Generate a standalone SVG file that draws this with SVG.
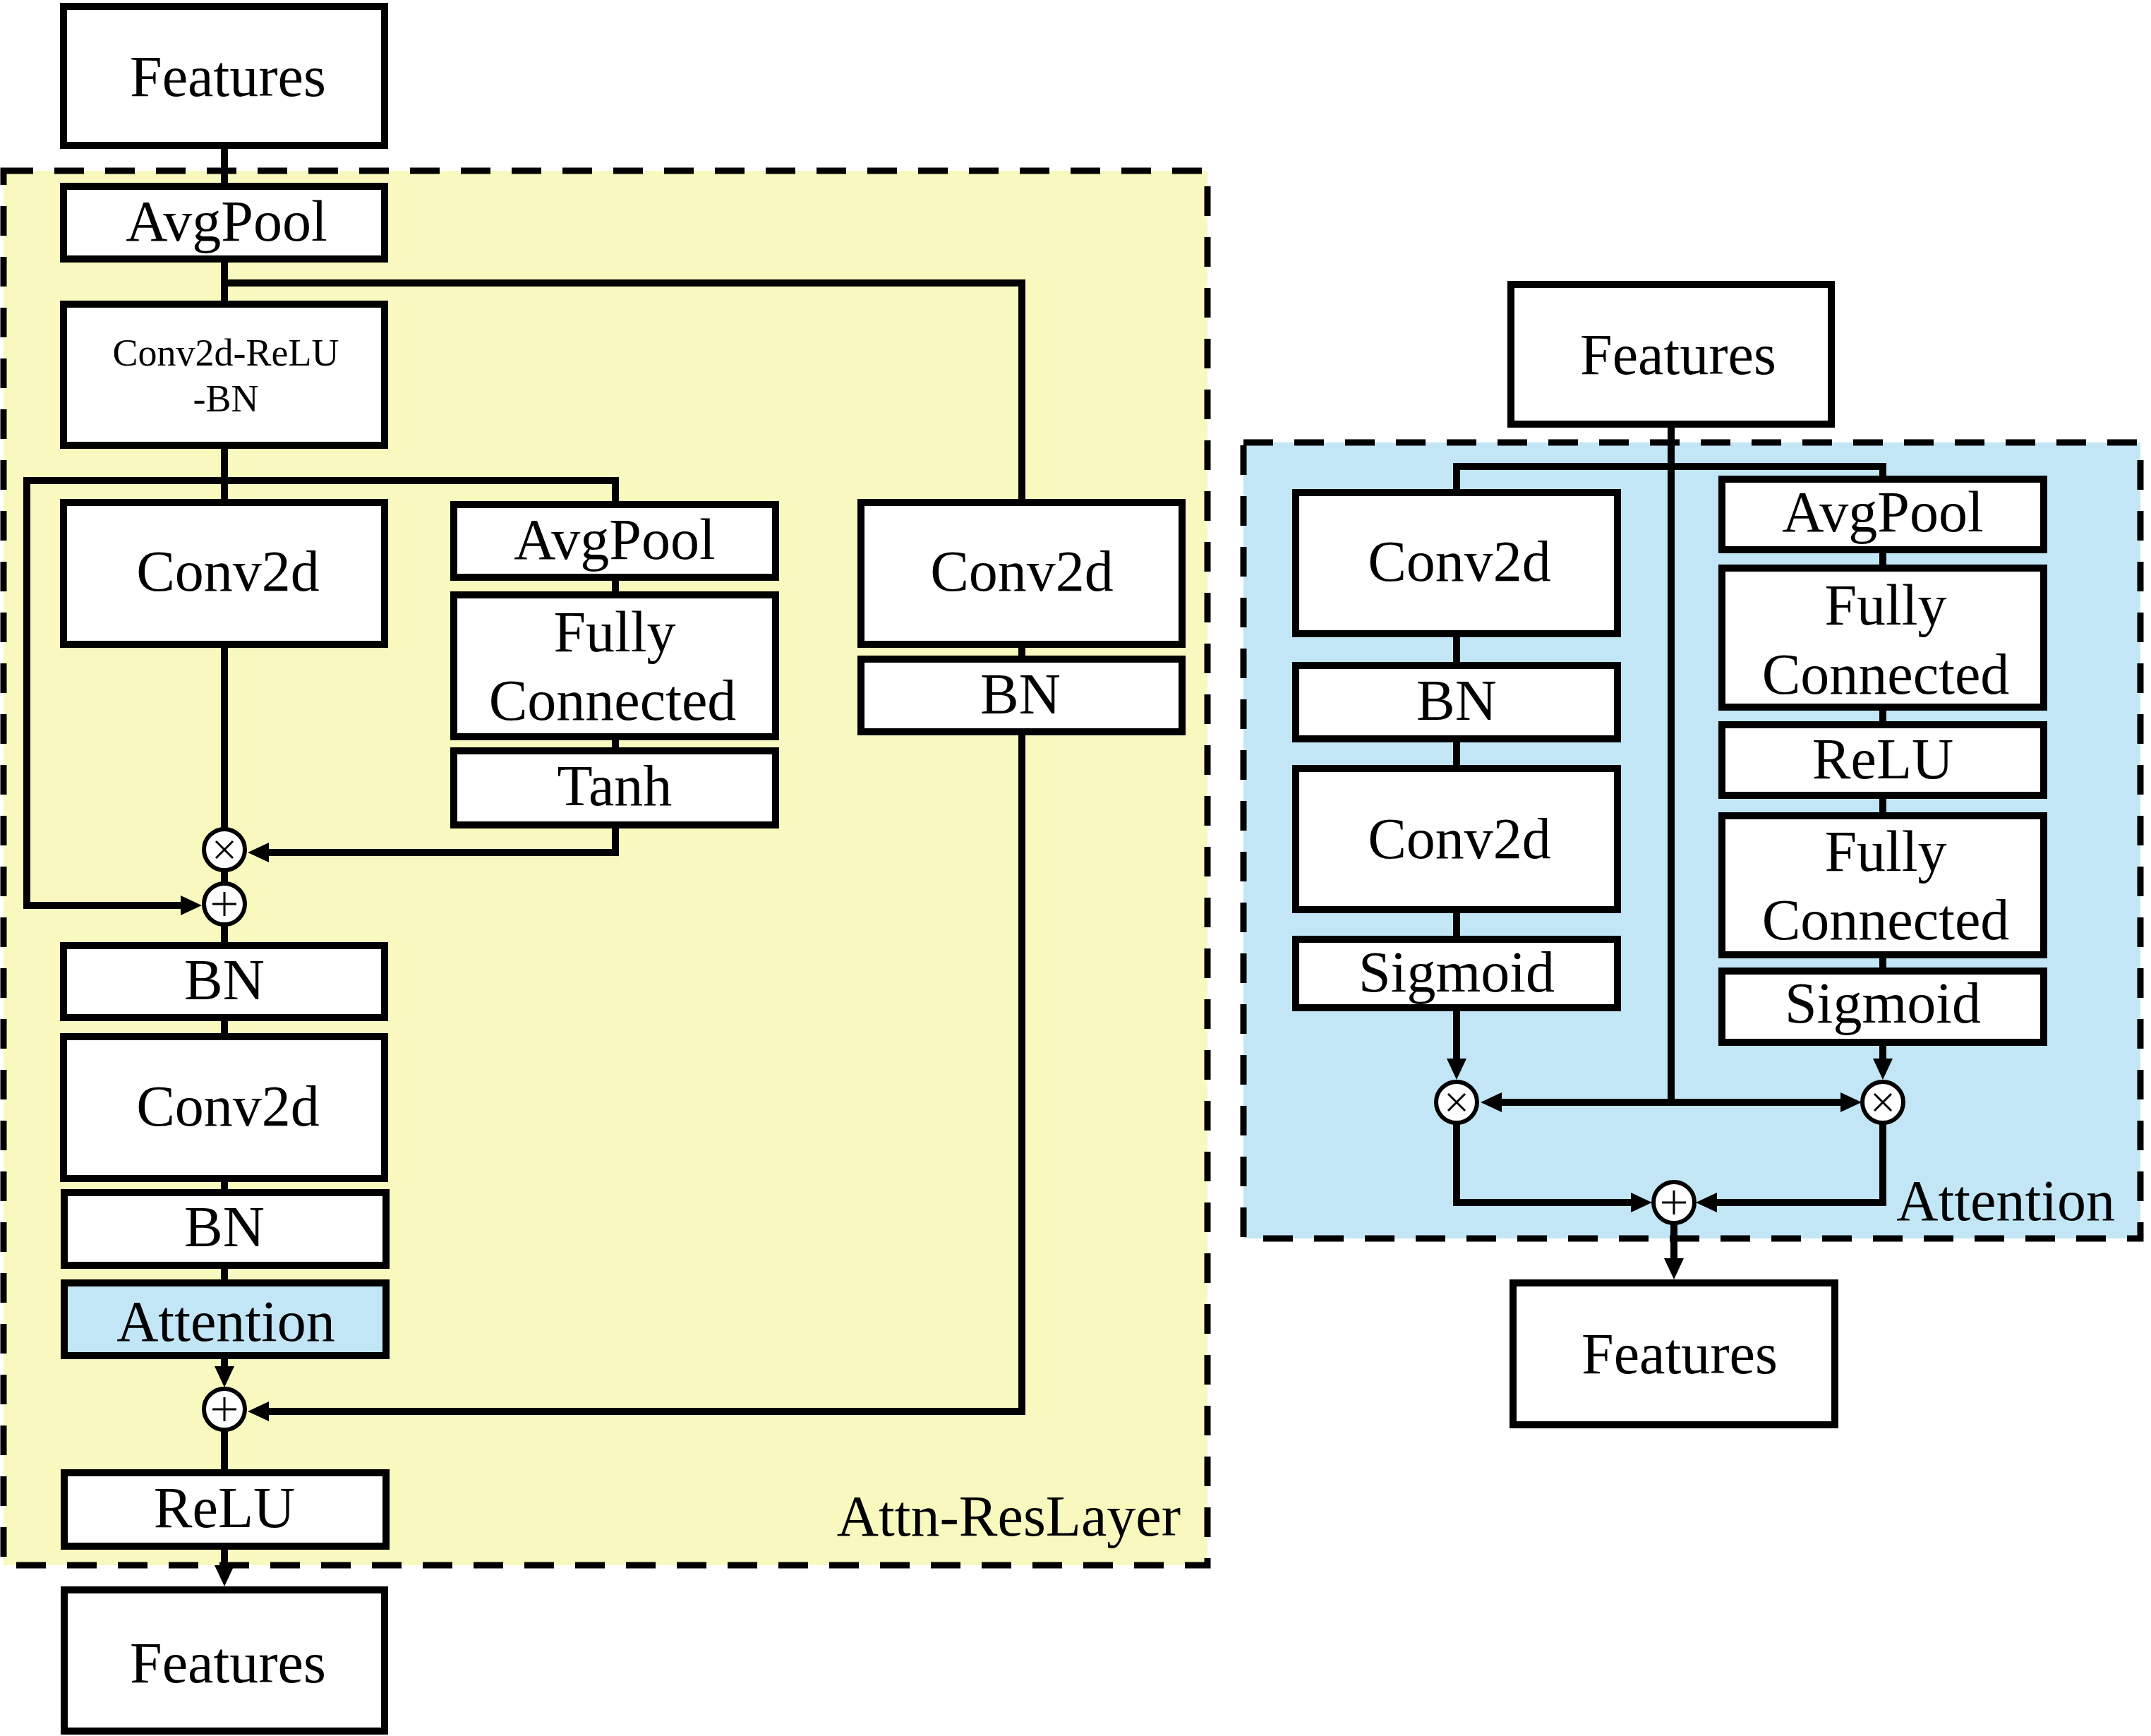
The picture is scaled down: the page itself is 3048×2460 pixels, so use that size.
<svg xmlns="http://www.w3.org/2000/svg" width="3048" height="2460" viewBox="0 0 3048 2460">
<defs>
<style>
.box{fill:#fff;stroke:#000;stroke-width:10}
.att{fill:#c2e6f6;stroke:#000;stroke-width:10}
.wire{fill:none;stroke:#000;stroke-width:10}
.lbl{font-family:"Liberation Serif","Times New Roman",serif;font-size:82px;text-anchor:middle;fill:#000}
.sm{font-size:54px}
.cap{text-anchor:end}
.grp{stroke:#000;stroke-width:9;stroke-dasharray:42 30}
.op{fill:#fff;stroke:#000;stroke-width:6}
.sign{stroke:#000;stroke-width:3;fill:none}
</style>
<marker id="arr" viewBox="0 0 30 28" markerWidth="30" markerHeight="28" refX="0" refY="14" orient="auto" markerUnits="userSpaceOnUse">
<path d="M0,0 L30,14 L0,28 Z" fill="#000"/>
</marker>
<g id="mulSym"><circle class="op" r="29"/><path class="sign" d="M-12,-12 L12,12 M12,-12 L-12,12"/></g>
<g id="addSym"><circle class="op" r="29"/><path class="sign" d="M-17,0 H17 M0,-17 V17"/></g>
</defs>

<rect width="3048" height="2460" fill="#fff"/>

<!-- group frames -->
<g id="attn-reslayer-frame">
<rect class="grp" x="5" y="242" width="1706" height="1976" fill="#f9f9bf"/>
<text class="lbl cap" x="1673" y="2176">Attn-ResLayer</text>
</g>
<g id="attention-frame">
<rect class="grp" x="1762" y="627" width="1271" height="1128" fill="#c2e6f6"/>
<text class="lbl cap" x="2997" y="1729">Attention</text>
</g>

<!-- connectors -->
<g id="connectors">
<path class="wire" d="M318,206 V264"/>
<path class="wire" d="M318,367 V431"/>
<path class="wire" d="M318,401 H1448 V712"/>
<path class="wire" d="M318,631 V712"/>
<path class="wire" d="M872,715 V681 H38 V1283 H256" marker-end="url(#arr)"/>
<path class="wire" d="M318,913 V1175"/>
<path class="wire" d="M872,818 V843"/>
<path class="wire" d="M872,1044 V1064"/>
<path class="wire" d="M872,1169 V1208 H381" marker-end="url(#arr)"/>
<path class="wire" d="M318,1233 V1253"/>
<path class="wire" d="M318,1309 V1340"/>
<path class="wire" d="M318,1442 V1469"/>
<path class="wire" d="M318,1670 V1690"/>
<path class="wire" d="M318,1793 V1818"/>
<path class="wire" d="M318,1921 V1936" marker-end="url(#arr)"/>
<path class="wire" d="M1448,913 V934"/>
<path class="wire" d="M1448,1037 V2000 H381" marker-end="url(#arr)"/>
<path class="wire" d="M318,2025 V2087"/>
<path class="wire" d="M318,2191 V2218" marker-end="url(#arr)"/>

<path class="wire" d="M2368,601 V1562"/>
<path class="wire" d="M2064,698 V661 H2668 V679"/>
<path class="wire" d="M2064,898 V943"/>
<path class="wire" d="M2064,1047 V1089"/>
<path class="wire" d="M2064,1289 V1331"/>
<path class="wire" d="M2064,1428 V1500" marker-end="url(#arr)"/>
<path class="wire" d="M2668,779 V805"/>
<path class="wire" d="M2668,1002 V1027"/>
<path class="wire" d="M2668,1127 V1156"/>
<path class="wire" d="M2668,1353 V1376"/>
<path class="wire" d="M2668,1477 V1500" marker-end="url(#arr)"/>
<path class="wire" d="M2368,1562 H2128" marker-end="url(#arr)"/>
<path class="wire" d="M2368,1562 H2608" marker-end="url(#arr)"/>
<path class="wire" d="M2064,1590 V1704 H2311" marker-end="url(#arr)"/>
<path class="wire" d="M2668,1590 V1704 H2433" marker-end="url(#arr)"/>
<path class="wire" d="M2372,1732 V1783" marker-end="url(#arr)"/>
</g>

<!-- Attn-ResLayer nodes -->
<g id="features-in"><rect class="box" x="90" y="9" width="455" height="197"/><text class="lbl" x="323" y="136">Features</text></g>
<g id="avgpool-1"><rect class="box" x="90" y="264" width="455" height="103"/><text class="lbl" x="321" y="341">AvgPool</text></g>
<g id="conv-relu-bn"><rect class="box" x="90" y="431" width="455" height="200"/><text class="lbl sm" x="320" y="518">Conv2d-ReLU</text><text class="lbl sm" x="320" y="583">-BN</text></g>
<g id="conv2d-1"><rect class="box" x="90" y="712" width="455" height="201"/><text class="lbl" x="323" y="837">Conv2d</text></g>
<g id="avgpool-2"><rect class="box" x="643" y="715" width="456" height="103"/><text class="lbl" x="871" y="792">AvgPool</text></g>
<g id="fc-1"><rect class="box" x="643" y="843" width="456" height="201"/><text class="lbl" x="871" y="923">Fully</text><text class="lbl" x="868" y="1020">Connected</text></g>
<g id="tanh"><rect class="box" x="643" y="1064" width="456" height="105"/><text class="lbl" x="871" y="1141">Tanh</text></g>
<g id="mul-1" transform="translate(318,1204)"><use href="#mulSym"/></g>
<g id="add-1" transform="translate(318,1281)"><use href="#addSym"/></g>
<g id="bn-1"><rect class="box" x="90" y="1340" width="455" height="102"/><text class="lbl" x="318" y="1416">BN</text></g>
<g id="conv2d-2"><rect class="box" x="90" y="1469" width="455" height="201"/><text class="lbl" x="323" y="1595">Conv2d</text></g>
<g id="bn-2"><rect class="box" x="91" y="1690" width="456" height="103"/><text class="lbl" x="318" y="1766">BN</text></g>
<g id="attention-block"><rect class="att" x="91" y="1818" width="456" height="103"/><text class="lbl" x="320" y="1900">Attention</text></g>
<g id="add-2" transform="translate(318,1997)"><use href="#addSym"/></g>
<g id="relu-1"><rect class="box" x="91" y="2087" width="456" height="104"/><text class="lbl" x="318" y="2164">ReLU</text></g>
<g id="features-out"><rect class="box" x="91" y="2253" width="454" height="200"/><text class="lbl" x="323" y="2384">Features</text></g>
<g id="conv2d-skip"><rect class="box" x="1220" y="712" width="455" height="201"/><text class="lbl" x="1448" y="837">Conv2d</text></g>
<g id="bn-skip"><rect class="box" x="1220" y="934" width="455" height="103"/><text class="lbl" x="1446" y="1011">BN</text></g>

<!-- Attention nodes -->
<g id="att-features-in"><rect class="box" x="2141" y="403" width="454" height="198"/><text class="lbl" x="2378" y="530">Features</text></g>
<g id="att-conv2d-1"><rect class="box" x="1836" y="698" width="456" height="200"/><text class="lbl" x="2068" y="823">Conv2d</text></g>
<g id="att-bn"><rect class="box" x="1836" y="943" width="456" height="104"/><text class="lbl" x="2064" y="1020">BN</text></g>
<g id="att-conv2d-2"><rect class="box" x="1836" y="1089" width="456" height="200"/><text class="lbl" x="2068" y="1216">Conv2d</text></g>
<g id="att-sigmoid-1"><rect class="box" x="1836" y="1331" width="456" height="97"/><text class="lbl" x="2064" y="1405">Sigmoid</text></g>
<g id="att-avgpool"><rect class="box" x="2440" y="679" width="456" height="100"/><text class="lbl" x="2668" y="753">AvgPool</text></g>
<g id="att-fc-1"><rect class="box" x="2440" y="805" width="456" height="197"/><text class="lbl" x="2672" y="885">Fully</text><text class="lbl" x="2672" y="983">Connected</text></g>
<g id="att-relu"><rect class="box" x="2440" y="1027" width="456" height="100"/><text class="lbl" x="2668" y="1103">ReLU</text></g>
<g id="att-fc-2"><rect class="box" x="2440" y="1156" width="456" height="197"/><text class="lbl" x="2672" y="1234">Fully</text><text class="lbl" x="2672" y="1331">Connected</text></g>
<g id="att-sigmoid-2"><rect class="box" x="2440" y="1376" width="456" height="101"/><text class="lbl" x="2668" y="1449">Sigmoid</text></g>
<g id="att-mul-1" transform="translate(2064,1562)"><use href="#mulSym"/></g>
<g id="att-mul-2" transform="translate(2668,1562)"><use href="#mulSym"/></g>
<g id="att-add" transform="translate(2372,1704)"><use href="#addSym"/></g>
<g id="att-features-out"><rect class="box" x="2144" y="1818" width="456" height="201"/><text class="lbl" x="2380" y="1946">Features</text></g>
</svg>
